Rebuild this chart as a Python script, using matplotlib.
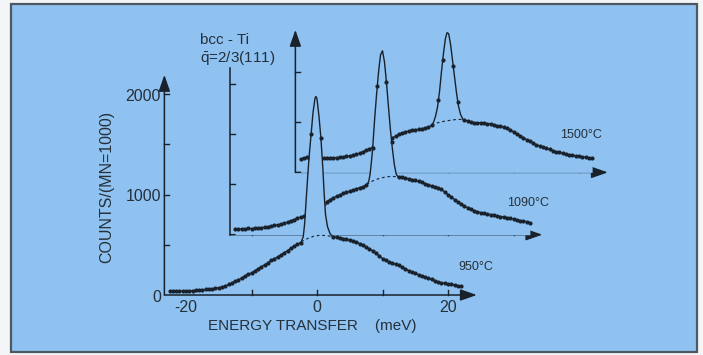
import numpy as np
import matplotlib.pyplot as plt
from matplotlib.patches import Rectangle

plt.rcParams['font.family'] = ['Liberation Sans', 'DejaVu Sans']
plt.rcParams['mathtext.fontset'] = 'custom'
plt.rcParams['mathtext.rm'] = 'Liberation Sans'

# ---- data (energy in meV, counts per 1000 monitor) ----
temps = ['950°C', '1090°C', '1500°C']

# 950 C
e950_left = np.arange(-22.5, -2.4, 0.5)
c950_left = [35, 38, 36, 40, 38, 42, 40, 44, 45, 48, 50, 55, 60, 62, 68, 72, 78, 88, 105, 120,
             135, 150, 170, 190, 205, 220, 240, 262, 282, 300, 320, 345, 362, 380, 400, 420,
             442, 465, 485, 505, 522]
e950_right = np.arange(2.5, 22.1, 0.5)
c950_right = [578, 575, 570, 562, 555, 545, 535, 525, 512, 495, 478, 460, 440, 415, 390, 362,
              345, 330, 318, 305, 295, 278, 260, 243, 228, 215, 203, 190, 180, 168, 155, 142,
              130, 122, 115, 110, 105, 98, 92, 88]
e950_peak = [-2.4, -2.1, -1.9, -1.7, -1.45, -1.2, -0.9, -0.6, -0.3, -0.15, 0.0, 0.3, 0.6, 0.9,
             1.1, 1.3, 1.6, 2.0, 2.4]
c950_peak = [530, 580, 700, 900, 1150, 1380, 1600, 1820, 1960, 1975, 1950, 1780, 1560, 1250,
             1000, 800, 680, 610, 580]
e950_flank = [-0.9, 0.6]
c950_flank = [1600, 1560]
e950_bg = [-2.4, -1.5, -0.5, 0.5, 1.5, 2.4]
c950_bg = [530, 560, 585, 595, 590, 580]

# 1090 C
e1090_left = np.arange(-22.5, -2.4, 0.5)
c1090_left = [55, 58, 55, 60, 62, 60, 65, 68, 70, 75, 80, 85, 92, 98, 105, 115, 125, 140, 150,
              165, 175, 185, 195, 205, 230, 255, 280, 305, 330, 350, 368, 382, 398, 410, 420,
              432, 445, 455, 468, 478, 495]
e1090_right = np.arange(2.5, 22.6, 0.5)
c1090_right = [575, 570, 565, 555, 548, 540, 530, 520, 508, 497, 487, 478, 468, 450, 425, 400,
               375, 350, 325, 305, 285, 268, 252, 238, 228, 220, 212, 205, 200, 195, 188, 180,
               175, 170, 162, 155, 148, 140, 135, 128, 120]
e1090_peak = [-2.4, -2.1, -1.9, -1.7, -1.5, -1.2, -0.9, -0.6, -0.3, 0.0, 0.3, 0.6, 0.9, 1.2,
              1.5, 1.8, 2.1, 2.4]
c1090_peak = [500, 530, 600, 720, 860, 1150, 1400, 1620, 1790, 1830, 1720, 1520, 1280, 1050,
              860, 700, 600, 575]
e1090_flank = [-1.5, -0.8, 0.6, 1.4]
c1090_flank = [860, 1480, 1520, 920]
e1090_bg = [-2.4, -1.5, -0.5, 0.5, 1.5, 2.4]
c1090_bg = [500, 535, 560, 575, 580, 575]

# 1500 C
e1500_left = np.arange(-22.5, -2.4, 0.5)
c1500_left = [130, 145, 150, 142, 140, 138, 140, 142, 140, 140, 145, 148, 150, 155, 160, 165,
              172, 180, 190, 205, 220, 235, 248, 262, 280, 300, 315, 330, 345, 360, 380, 392,
              402, 412, 420, 424, 428, 435, 440, 448, 470]
e1500_right = np.arange(2.5, 22.1, 0.5)
c1500_right = [522, 510, 500, 495, 492, 495, 492, 485, 480, 472, 466, 458, 452, 440, 422, 405,
               385, 365, 345, 325, 308, 292, 275, 262, 250, 238, 228, 215, 205, 198, 188, 180,
               175, 170, 165, 160, 155, 150, 145, 140]
e1500_peak = [-2.5, -2.2, -1.9, -1.6, -1.3, -1.0, -0.7, -0.4, -0.15, 0.1, 0.4, 0.7, 1.0, 1.3,
              1.6, 1.9, 2.3]
c1500_peak = [470, 500, 560, 650, 800, 1000, 1180, 1330, 1390, 1380, 1270, 1110, 950, 790,
              660, 580, 525]
e1500_flank = [-1.5, -0.8, 0.8, 1.5]
c1500_flank = [720, 1120, 1060, 700]
e1500_bg = [-2.5, -1.5, -0.5, 0.5, 1.5, 2.3]
c1500_bg = [470, 495, 510, 520, 528, 525]

# ---- layout (pixel mapping of the scanned figure) ----
W, H = 703, 355
E0_PX, PX_PER_MEV = 317, 6.55
C0_PY, PX_PER_CNT = 295, 0.1005


def e_at(px):
    return (px - E0_PX) / PX_PER_MEV


def c_at(py):
    return (C0_PY - py) / PX_PER_CNT


BG = '#8fc2f1'
INK = '#19222c'
TXT = '#25303a'
E_MIN, E_MAX = -23.3, 24.4
TICK_E = 0.75
TICK_C = 50

fig = plt.figure(figsize=(W / 100, H / 100), dpi=100)
fig.patch.set_facecolor('#f4f5f6')
ax = fig.add_axes([0, 0, 1, 1])
ax.set_xlim(e_at(0), e_at(W))
ax.set_ylim(c_at(H), c_at(0))
ax.axis('off')

ax.add_patch(Rectangle((11 / W, 3 / H), 686 / W, 348 / H, transform=ax.transAxes,
                       facecolor=BG, edgecolor='#4d5863', lw=1.6, zorder=0))


def arrow(x0, y0, x1, y1, z):
    ax.annotate('', xy=(x1, y1), xytext=(x0, y0),
                arrowprops=dict(arrowstyle='-|>,head_length=1.0,head_width=0.35',
                                mutation_scale=10, lw=1.1, color=INK,
                                shrinkA=0, shrinkB=0), zorder=z)


def frame(dE, dC, top, y_arrow, xticks, yticks, z):
    arrow(E_MIN + dE, dC, E_MAX + dE, dC, z)
    if y_arrow:
        arrow(E_MIN + dE, dC, E_MIN + dE, top + dC, z)
    else:
        ax.plot([E_MIN + dE, E_MIN + dE], [dC, top + dC], color=INK, lw=1.1, zorder=z)
    for t in xticks:
        ax.plot([t + dE, t + dE], [dC, dC + TICK_C], color=INK, lw=1.0, zorder=z)
    for t in yticks:
        ax.plot([E_MIN + dE, E_MIN + dE + TICK_E], [t + dC, t + dC], color=INK, lw=1.0, zorder=z)


def curve(dE, dC, el, cl, er, cr, ep, cp, ef, cf, eb, cb, z):
    e_line = np.concatenate([el, ep, er]) + dE
    c_line = np.concatenate([cl, cp, cr]) + dC
    ax.fill_between(e_line, dC, c_line, color=BG, lw=0, zorder=z)
    ax.plot(e_line, c_line, color=INK, lw=1.0, zorder=z + 0.2)
    e_pts = np.concatenate([el, ef, er]) + dE
    c_pts = np.concatenate([cl, cf, cr]) + dC
    ax.plot(e_pts, c_pts, 'o', color=INK, ms=3.0, mew=0, zorder=z + 0.3)
    ax.plot(np.array(eb) + dE, np.array(cb) + dC, color=INK, lw=0.8,
            ls=(0, (2.5, 2.5)), zorder=z + 0.2)


# back frame: 1500 C
frame(20, 1220, 1418, True, [-20, -10, 0, 10, 20], [500, 1000], 1)
curve(20, 1220, e1500_left, c1500_left, e1500_right, c1500_right, e1500_peak, c1500_peak,
      e1500_flank, c1500_flank, e1500_bg, c1500_bg, 2)

# middle frame: 1090 C
frame(10, 600, 1660, False, [-20, -10, 0, 10, 20], [500, 1000, 1500], 3)
curve(10, 600, e1090_left, c1090_left, e1090_right, c1090_right, e1090_peak, c1090_peak,
      e1090_flank, c1090_flank, e1090_bg, c1090_bg, 4)

# front frame: 950 C
curve(0, 0, e950_left, c950_left, e950_right, c950_right, e950_peak, c950_peak,
      e950_flank, c950_flank, e950_bg, c950_bg, 6)
frame(0, 0, 2190, True, [-10, 0, 10, 20], [500, 1000, 1500, 2000], 7)

# tick labels of the front frame
for t in [0, 1000, 2000]:
    ax.text(e_at(161), t - 20, str(t), ha='right', va='center', fontsize=11.5, color=TXT, zorder=8)
for t in [-20, 0, 20]:
    ax.text(t, c_at(308), str(t), ha='center', va='center',
            fontsize=11.5, color=TXT, zorder=8)

ax.text(e_at(208), c_at(326), 'ENERGY TRANSFER    (meV)', ha='left', va='center',
        fontsize=11, color=TXT)
ax.text(e_at(107), c_at(187), 'COUNTS/(MN=1000)', rotation=90, ha='center', va='center',
        fontsize=11.5, color=TXT)
ax.text(e_at(200), c_at(40), 'bcc - Ti', ha='left', va='center', fontsize=11, color=TXT)
ax.text(e_at(200), c_at(58), r'$\bar{\mathrm{q}}$=2/3(111)', ha='left', va='center',
        fontsize=11, color=TXT)

label_px = [(458, 267), (507, 203), (560, 135)]
for name, (px, py) in zip(temps, label_px):
    ax.text(e_at(px), c_at(py), name, ha='left', va='center', fontsize=9, color=TXT, zorder=8)

fig.savefig('out.png', dpi=100, facecolor=fig.get_facecolor())
